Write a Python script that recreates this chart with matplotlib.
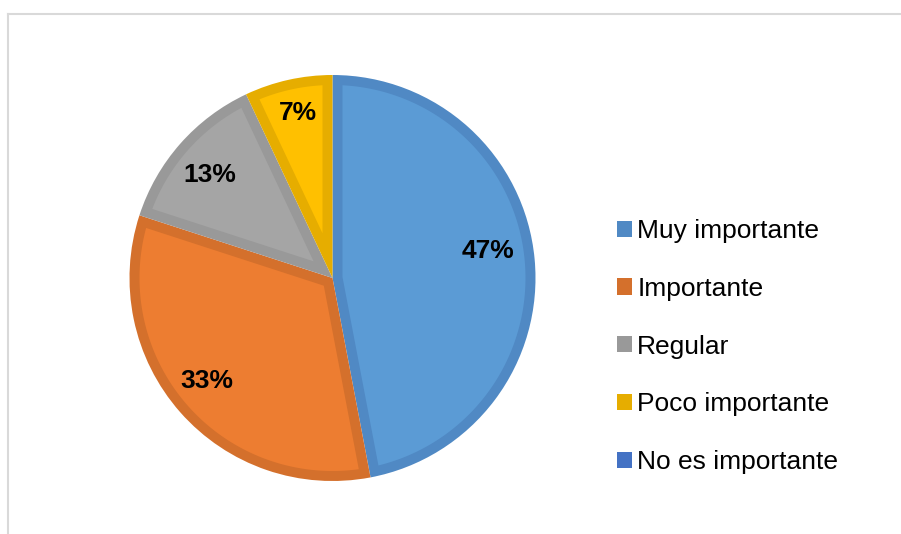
import numpy as np
import matplotlib.pyplot as plt
from matplotlib.patches import Patch
from matplotlib.lines import Line2D

plt.rcParams['font.family'] = ['Liberation Sans', 'DejaVu Sans']

categories = ["Muy importante", "Importante", "Regular", "Poco importante", "No es importante"]
values = [47, 33, 13, 7, 0]
face_colors = ["#5B9BD5", "#ED7D31", "#A5A5A5", "#FFC000", "#4472C4"]
edge_colors = ["#5089C4", "#D4702C", "#999999", "#E6AD00", "#4472C4"]

W, H = 901, 534
fig = plt.figure(figsize=(W / 100, H / 100), dpi=100)

# light frame around the chart area
fig.add_artist(Line2D([8 / W, 1], [1 - 14 / H, 1 - 14 / H], color="#D9D9D9", lw=1.5))
fig.add_artist(Line2D([8 / W, 8 / W], [0, 1 - 14 / H], color="#D9D9D9", lw=1.5))

cx, cy, r = 332.5, H - 278, 203
ax = fig.add_axes([(cx - r) / W, (cy - r) / H, 2 * r / W, 2 * r / H])

shown = [v for v in values if v > 0]
# slices are filled with the border colour, the lighter inset goes on top
wedges, texts, autotexts = ax.pie(
    shown, colors=edge_colors[:len(shown)], startangle=90, counterclock=False,
    radius=1, autopct="%d%%", pctdistance=0.8,
    textprops=dict(fontsize=19, fontweight="bold", color="black", zorder=5),
)

d = 10 / r  # border width in data units
for w, fc in zip(wedges, face_colors):
    t1, t2 = np.radians(w.theta1), np.radians(w.theta2)
    half = (t2 - t1) / 2
    mid = (t1 + t2) / 2
    s = d / np.sin(half)
    t = np.sqrt((w.r - d) ** 2 - d ** 2)
    delta = np.arctan2(d, t)
    arc = np.linspace(t1 + delta, t2 - delta, 120)
    xs = np.concatenate([[s * np.cos(mid)], (w.r - d) * np.cos(arc)])
    ys = np.concatenate([[s * np.sin(mid)], (w.r - d) * np.sin(arc)])
    ax.fill(xs, ys, color=fc, lw=0, zorder=w.get_zorder() + 0.5)

# nudge labels to where they sit in the original layout
label_angles = [10, -140.5, 140, 102]
label_radius = [0.78, 0.8, 0.79, 0.83]
for tx, a, rr in zip(autotexts, label_angles, label_radius):
    tx.set_position((rr * np.cos(np.radians(a)), rr * np.sin(np.radians(a))))

ax.set_xlim(-1, 1)
ax.set_ylim(-1, 1)
ax.set_aspect("equal")
ax.axis("off")

handles = [Patch(facecolor=c, edgecolor="none") for c in edge_colors]
fig.legend(handles, categories, loc="upper left",
           bbox_to_anchor=(617 / W, 1 - 219 / H), frameon=False,
           fontsize=19, handlelength=0.57, handleheight=0.57,
           handletextpad=0.2, labelspacing=1.28, borderpad=0, borderaxespad=0)

fig.savefig("out.png", dpi=100)
